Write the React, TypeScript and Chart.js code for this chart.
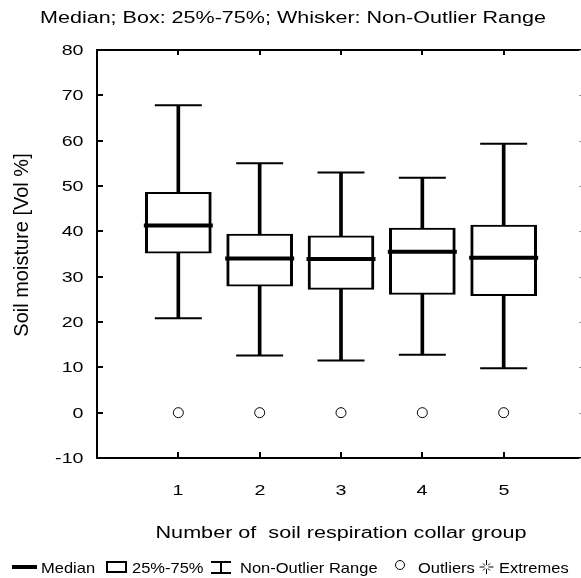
import { useEffect, useRef } from 'react';
import { Chart, registerables } from 'chart.js';

Chart.register(...registerables);

// Soil moisture box plot per soil respiration collar group
const groups = [1, 2, 3, 4, 5];
const whiskerHigh = [67.8, 55.0, 53.0, 51.8, 59.3];
const q3 = [48.6, 39.4, 39.0, 40.7, 41.4];
const medians = [41.3, 34.0, 33.9, 35.5, 34.2];
const q1 = [35.2, 27.9, 27.2, 26.1, 25.8];
const whiskerLow = [20.8, 12.6, 11.5, 12.8, 9.8];
const outliers = [0, 0, 0, 0, 0];

const yMin = -10;
const yMax = 80;
const yStep = 10;
const xMin = 0;
const xMax = 6;

const titleText = 'Median; Box: 25%-75%; Whisker: Non-Outlier Range';
const xTitleText = 'Number of  soil respiration collar group';
const yTitleText = 'Soil moisture [Vol %]';
const legendLabels = ['Median', '25%-75%', 'Non-Outlier Range', 'Outliers', 'Extremes'];

const FONT = "'Liberation Sans', Arial, sans-serif";

function wideText(
  ctx: CanvasRenderingContext2D,
  text: string,
  x: number,
  y: number,
  size: number,
  sx: number,
  align: CanvasTextAlign
) {
  ctx.save();
  ctx.font = `${size}px ${FONT}`;
  ctx.textAlign = align;
  ctx.textBaseline = 'alphabetic';
  ctx.fillStyle = '#000';
  ctx.translate(x, y);
  ctx.scale(sx, 1);
  ctx.fillText(text, 0, 0);
  ctx.restore();
}

const framePlugin = {
  id: 'statFrame',
  afterDraw(chart: any) {
    const { ctx, chartArea: a } = chart;
    const xs = chart.scales.x;
    const ys = chart.scales.y;
    ctx.save();
    ctx.strokeStyle = '#000';
    ctx.lineWidth = 2;
    ctx.lineCap = 'butt';

    // top and right edges of the frame
    ctx.beginPath();
    ctx.moveTo(a.left - 1, a.top);
    ctx.lineTo(a.right, a.top);
    ctx.lineTo(a.right, a.bottom);
    ctx.stroke();

    // inward ticks on the value axis (left) and faint ones on the right
    ys.ticks.forEach((t: any) => {
      const py = Math.round(ys.getPixelForValue(t.value));
      ctx.strokeStyle = '#000';
      ctx.lineWidth = 2;
      ctx.beginPath();
      ctx.moveTo(a.left, py);
      ctx.lineTo(a.left + 6, py);
      ctx.stroke();
      ctx.strokeStyle = '#999';
      ctx.lineWidth = 1;
      ctx.beginPath();
      ctx.moveTo(a.right, py + 0.5);
      ctx.lineTo(a.right - 6, py + 0.5);
      ctx.stroke();
      wideText(ctx, String(t.value), a.left - 13.5, py + 5.4, 15, 1.31, 'right');
    });

    // inward ticks on the bottom and top edges at each group
    xs.ticks
      .filter((t: any) => groups.includes(t.value))
      .forEach((t: any) => {
        const px = Math.round(xs.getPixelForValue(t.value));
        ctx.strokeStyle = '#000';
        ctx.lineWidth = 2;
        ctx.beginPath();
        ctx.moveTo(px, a.bottom);
        ctx.lineTo(px, a.bottom - 6);
        ctx.moveTo(px, a.top);
        ctx.lineTo(px, a.top + 5);
        ctx.stroke();
        wideText(ctx, String(t.value), px, 495, 15, 1.31, 'center');
      });

    // titles
    wideText(ctx, titleText, 293, 23, 16, 1.345, 'center');
    wideText(ctx, xTitleText, (a.left + a.right) / 2, 538, 16, 1.35, 'center');

    ctx.save();
    ctx.font = `20px ${FONT}`;
    ctx.fillStyle = '#000';
    ctx.textAlign = 'center';
    ctx.textBaseline = 'alphabetic';
    ctx.translate(27.5, 245);
    ctx.rotate(-Math.PI / 2);
    ctx.fillText(yTitleText, 0, 0);
    ctx.restore();

    // legend row
    const ly = 573;
    ctx.strokeStyle = '#000';
    ctx.lineWidth = 4;
    ctx.beginPath();
    ctx.moveTo(12, 567);
    ctx.lineTo(37, 567);
    ctx.stroke();
    wideText(ctx, legendLabels[0], 41, ly, 15, 1.1, 'left');

    ctx.lineWidth = 2;
    ctx.strokeRect(107, 562, 19, 10);
    wideText(ctx, legendLabels[1], 132, ly, 15, 1.1, 'left');

    ctx.beginPath();
    ctx.moveTo(211, 562);
    ctx.lineTo(231, 562);
    ctx.moveTo(221, 562);
    ctx.lineTo(221, 573);
    ctx.moveTo(211, 573);
    ctx.lineTo(231, 573);
    ctx.stroke();
    wideText(ctx, legendLabels[2], 240, ly, 15, 1.1, 'left');

    ctx.lineWidth = 1;
    ctx.beginPath();
    ctx.arc(400, 565, 4.5, 0, Math.PI * 2);
    ctx.stroke();
    wideText(ctx, legendLabels[3], 418, ly, 15, 1.1, 'left');

    const cx = 486.5;
    const cy = 567;
    ctx.beginPath();
    for (let k = 0; k < 8; k++) {
      const ang = (k * Math.PI) / 4;
      const r1 = 2;
      const r2 = k % 2 === 0 ? 7 : 5;
      ctx.moveTo(cx + Math.cos(ang) * r1, cy + Math.sin(ang) * r1);
      ctx.lineTo(cx + Math.cos(ang) * r2, cy + Math.sin(ang) * r2);
    }
    ctx.stroke();
    wideText(ctx, legendLabels[4], 499, ly, 15, 1.1, 'left');

    ctx.restore();
  },
};

export default function App() {
  const canvasRef = useRef<HTMLCanvasElement>(null);

  useEffect(() => {
    const canvas = canvasRef.current;
    if (!canvas) return;

    const chart = new Chart(canvas, {
      type: 'bar',
      data: {
        datasets: [
          {
            type: 'scatter',
            label: 'Median',
            data: groups.map((g, i) => ({ x: g, y: medians[i] })),
            pointStyle: 'line',
            pointRadius: 34.5,
            borderWidth: 4,
            borderColor: '#000',
            order: 1,
          } as any,
          {
            type: 'scatter',
            label: 'Whisker caps',
            data: [
              ...groups.map((g, i) => ({ x: g, y: whiskerHigh[i] })),
              ...groups.map((g, i) => ({ x: g, y: whiskerLow[i] })),
            ],
            pointStyle: 'line',
            pointRadius: 23.5,
            borderWidth: 2,
            borderColor: '#000',
            order: 2,
          } as any,
          {
            type: 'scatter',
            label: 'Outliers',
            data: groups.map((g, i) => ({ x: g, y: outliers[i] })),
            pointStyle: 'circle',
            pointRadius: 5,
            borderWidth: 1,
            borderColor: '#000',
            backgroundColor: '#fff',
            order: 3,
          } as any,
          {
            type: 'bar',
            label: '25%-75%',
            data: groups.map((g, i) => ({ x: g, y: [q1[i], q3[i]] })),
            backgroundColor: '#fff',
            borderColor: '#000',
            borderWidth: { top: 2, bottom: 2, left: 3, right: 3 },
            borderSkipped: false,
            barThickness: 66,
            grouped: false,
            order: 4,
          } as any,
          {
            type: 'bar',
            label: 'Non-Outlier Range',
            data: groups.map((g, i) => ({ x: g, y: [whiskerLow[i], whiskerHigh[i]] })),
            backgroundColor: '#000',
            borderWidth: 0,
            barThickness: 3,
            grouped: false,
            order: 5,
          } as any,
        ],
      },
      options: {
        responsive: false,
        animation: false,
        events: [],
        layout: {
          autoPadding: false,
          padding: { left: 97, right: 15, top: 50, bottom: 120 },
        },
        plugins: {
          legend: { display: false },
          tooltip: { enabled: false },
          title: { display: false },
        },
        scales: {
          x: {
            type: 'linear',
            min: xMin,
            max: xMax,
            offset: false,
            ticks: { display: false, stepSize: 1 },
            grid: { display: false, drawTicks: false },
            border: { display: true, color: '#000', width: 2 },
            afterFit: (s: any) => {
              s.height = 0;
            },
          },
          y: {
            type: 'linear',
            min: yMin,
            max: yMax,
            ticks: { display: false, stepSize: yStep },
            grid: { display: false, drawTicks: false },
            border: { display: true, color: '#000', width: 2 },
            afterFit: (s: any) => {
              s.width = 0;
            },
          },
        },
      } as any,
      plugins: [framePlugin],
    });

    return () => chart.destroy();
  }, []);

  return (
    <div
      style={{
        position: 'fixed',
        left: 0,
        top: 0,
        width: 581,
        height: 578,
        overflow: 'hidden',
        background: '#fff',
      }}
    >
      <canvas ref={canvasRef} width={600} height={578} style={{ display: 'block' }} />
    </div>
  );
}
